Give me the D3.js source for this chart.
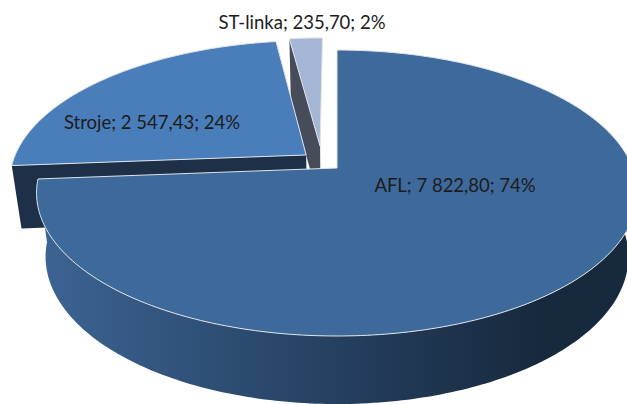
<!DOCTYPE html>
<html>
<head>
<meta charset="utf-8">
<script src="https://cdn.jsdelivr.net/npm/d3@7"></script>
<style>
  html, body { margin: 0; padding: 0; background: #fff; }
  svg { display: block; }
  text { font-family: Lato, sans-serif; font-size: 18.5px; fill: #1c1c1c; }
</style>
</head>
<body>
<div id="chart"></div>
<script>
  var categories = ['AFL', 'Stroje', 'ST-linka'];
  var values = [7822.80, 2547.43, 235.70];

  var width = 627;
  var height = 404;

  // projection of the tilted pie, fitted to the picture
  var apex = { x: 337, y: 168 };
  var persp = -0.175;
  var scaleX = 295.8;
  var scaleY = 138.6;
  var depth = { base: 63, grow: 0.03, shrink: 0.97 };

  var sliceStyles = [
    { top: '#3e699b', wall: 'url(#aflWall)', shiftX: 0, shiftY: 0, radius: 1, labelX: 455, labelY: 192 },
    { top: '#4a7ebb', wall: '#1d3048', shiftX: -0.106, shiftY: -0.0954, radius: 1, labelX: 152, labelY: 129 },
    { top: '#a5b5d5', wall: '#464c5a', shiftX: -0.0588, shiftY: -0.163, radius: 0.96, labelX: 302, labelY: 29 }
  ];

  var project = function (x, y) {
    var w = 1 + persp * y;
    return [scaleX * x / w, scaleY * y / w];
  };

  // point on top of the pie; angle runs clockwise from the back
  var topPoint = function (style, angle, r) {
    var p = project(style.shiftX + r * Math.sin(angle), style.shiftY - r * Math.cos(angle));
    return [apex.x + p[0], apex.y + p[1]];
  };

  var bottomPoint = function (style, angle, r) {
    var p = project(style.shiftX + r * Math.sin(angle), style.shiftY - r * Math.cos(angle));
    return [apex.x + p[0] * depth.shrink, apex.y + depth.base + p[1] * (1 + depth.grow)];
  };

  var arcAngles = function (a0, a1) {
    var n = Math.max(4, Math.ceil((a1 - a0) * 60));
    var s = d3.scaleLinear().domain([0, n]).range([a0, a1]);
    return d3.range(n + 1).map(s);
  };

  var line = d3.line();

  var svg = d3.select('#chart').append('svg')
      .attr('width', width)
      .attr('height', height);

  var grad = svg.append('defs').append('linearGradient')
      .attr('id', 'aflWall')
      .attr('gradientUnits', 'userSpaceOnUse')
      .attr('x1', 40).attr('x2', 540).attr('y1', 0).attr('y2', 0);
  grad.append('stop').attr('offset', '0%').attr('stop-color', '#3c6494');
  grad.append('stop').attr('offset', '55%').attr('stop-color', '#274263');
  grad.append('stop').attr('offset', '100%').attr('stop-color', '#17293d');

  var pie = d3.pie().sort(null);
  var arcs = pie(values);

  var fmt = d3.formatLocale({ decimal: ',', thousands: ' ', grouping: [3], currency: ['', ''] }).format(',.2f');
  var total = d3.sum(values);

  var labelText = function (i) {
    return categories[i] + '; ' + fmt(values[i]) + '; ' + Math.round(values[i] / total * 100) + '%';
  };

  var sideWall = function (style, a) {
    var points = [topPoint(style, a, 0), topPoint(style, a, style.radius),
      bottomPoint(style, a, style.radius), bottomPoint(style, a, 0)];
    return line(points) + 'Z';
  };

  var outerWall = function (style, a0, a1) {
    var angles = arcAngles(a0, a1);
    var upper = angles.map(function (a) { return topPoint(style, a, style.radius); });
    var lower = angles.slice().reverse().map(function (a) { return bottomPoint(style, a, style.radius); });
    return line(upper.concat(lower)) + 'Z';
  };

  var topFace = function (style, a0, a1) {
    var rim = arcAngles(a0, a1).map(function (a) { return topPoint(style, a, style.radius); });
    return line([topPoint(style, a0, 0)].concat(rim)) + 'Z';
  };

  // back slices first so the nearer ones cover them
  [2, 1, 0].forEach(function (i) {
    var d = arcs[i];
    var style = sliceStyles[i];
    var g = svg.append('g').attr('class', 'slice');

    if (i === 0) {
      g.append('path')
          .attr('d', outerWall(style, Math.PI / 2, d.endAngle))
          .attr('fill', style.wall);
    } else {
      g.append('path')
          .attr('d', sideWall(style, d.startAngle))
          .attr('fill', style.wall);
    }

    g.append('path')
        .attr('d', topFace(style, d.startAngle, d.endAngle))
        .attr('fill', style.top)
        .attr('stroke', '#dfe3ea')
        .attr('stroke-width', 1)
        .attr('stroke-linejoin', 'round');
  });

  svg.selectAll('text.label')
      .data(arcs)
      .enter().append('text')
      .attr('class', 'label')
      .attr('text-anchor', 'middle')
      .attr('x', function (d, i) { return sliceStyles[i].labelX; })
      .attr('y', function (d, i) { return sliceStyles[i].labelY; })
      .text(function (d, i) { return labelText(i); });
</script>
</body>
</html>
